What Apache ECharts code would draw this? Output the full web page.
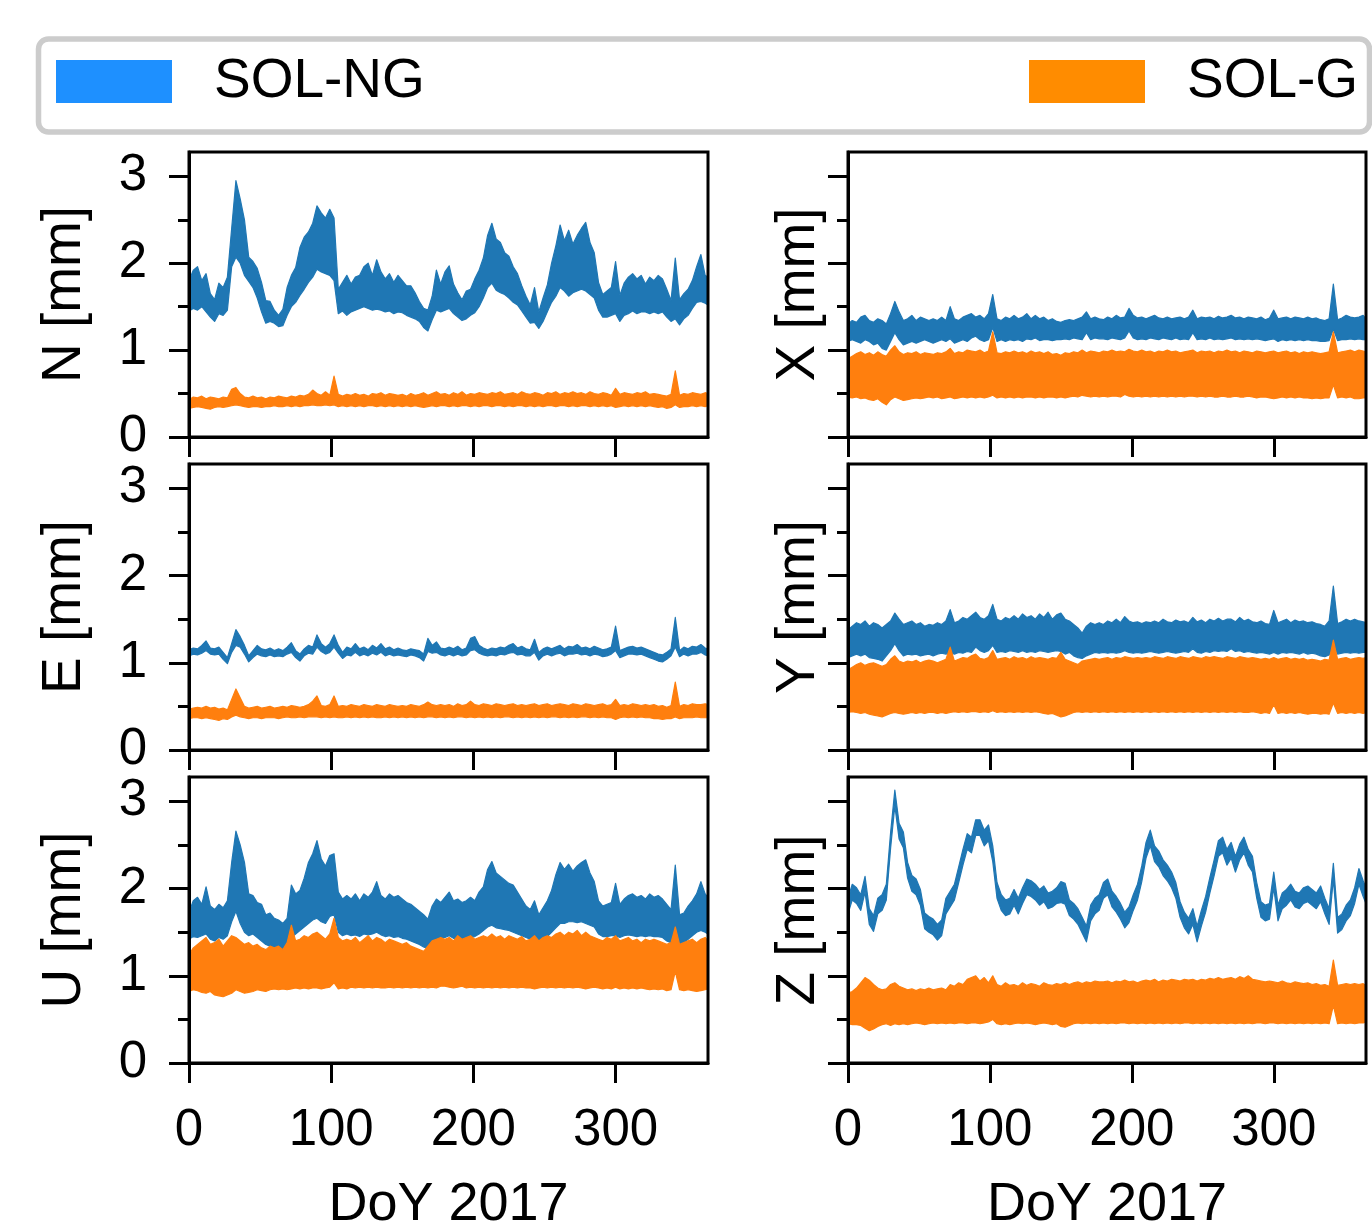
<!DOCTYPE html>
<html>
<head>
<meta charset="utf-8">
<script src="https://cdn.jsdelivr.net/npm/echarts@6/dist/echarts.min.js"></script>
<style>
  html, body { margin: 0; padding: 0; background: #fff; }
  #chart { width: 1372px; height: 1224px; }
</style>
</head>
<body>
<div id="chart"></div>
<script>
// Day of year samples (every 3 days, plus the last day)
const days = [0,3,6,9,12,15,18,21,24,27, 30,33,36,39,42,45,48,51,54,57, 60,63,66,69,72,75,78,81,84,87, 90,93,96,99,102,105,108,111,114,117, 120,123,126,129,132,135,138,141,144,147, 150,153,156,159,162,165,168,171,174,177, 180,183,186,189,192,195,198,201,204,207, 210,213,216,219,222,225,228,231,234,237, 240,243,246,249,252,255,258,261,264,267, 270,273,276,279,282,285,288,291,294,297, 300,303,306,309,312,315,318,321,324,327, 330,333,336,339,342,345,348,351,354,357, 360,363,365];
const xTickDays = [0, 100, 200, 300];
const yMajorTicks = [0, 1, 2, 3];
const yMinorTicks = [0.5, 1.5, 2.5];
const seriesNames = ['SOL-NG', 'SOL-G'];
const axisLabels = ['N [mm]', 'E [mm]', 'U [mm]', 'X [mm]', 'Y [mm]', 'Z [mm]'];
const xName = 'DoY 2017';

// ---- N ----
const nNgHi = [1.80,1.92,1.96,1.80,1.88,1.65,1.58,1.77,1.72,1.84, 2.40,2.95,2.74,2.50,2.07,2.02,1.94,1.78,1.57,1.56, 1.46,1.40,1.47,1.72,1.86,1.95,2.18,2.30,2.36,2.46, 2.66,2.58,2.52,2.62,2.52,1.70,1.78,1.86,1.76,1.84, 1.86,1.96,2.00,1.86,2.04,1.90,1.82,1.88,1.78,1.86, 1.80,1.74,1.74,1.66,1.56,1.48,1.46,1.62,1.92,1.76, 1.90,1.97,1.76,1.66,1.58,1.68,1.70,1.82,1.92,2.06, 2.32,2.46,2.28,2.24,2.12,2.08,1.96,1.88,1.74,1.62, 1.52,1.72,1.44,1.60,1.75,2.00,2.20,2.44,2.26,2.38, 2.22,2.32,2.40,2.47,2.24,2.12,1.78,1.64,1.68,1.72, 2.02,1.63,1.77,1.84,1.88,1.82,1.86,1.76,1.84,1.80, 1.86,1.82,1.70,1.57,2.06,1.58,1.65,1.70,1.80,1.96, 2.10,1.86,1.84];
const nNgLo = [1.45,1.48,1.46,1.50,1.44,1.38,1.33,1.42,1.40,1.46, 1.96,2.07,2.00,1.86,1.79,1.72,1.60,1.44,1.31,1.33, 1.31,1.27,1.28,1.40,1.50,1.55,1.63,1.70,1.78,1.84, 1.93,1.90,1.88,1.86,1.80,1.42,1.45,1.40,1.44,1.46, 1.48,1.50,1.48,1.46,1.47,1.46,1.44,1.45,1.42,1.44, 1.43,1.40,1.38,1.36,1.33,1.26,1.22,1.35,1.46,1.44, 1.46,1.48,1.42,1.38,1.34,1.36,1.40,1.43,1.50,1.60, 1.72,1.77,1.69,1.66,1.64,1.60,1.55,1.52,1.45,1.38, 1.31,1.32,1.25,1.33,1.44,1.55,1.62,1.72,1.68,1.62, 1.66,1.68,1.70,1.68,1.64,1.60,1.46,1.38,1.38,1.40, 1.42,1.33,1.40,1.42,1.45,1.42,1.44,1.44,1.42,1.44, 1.42,1.44,1.38,1.33,1.36,1.29,1.36,1.40,1.48,1.55, 1.56,1.54,1.52];
const nGHi = [.43,.46,.45,.47,.44,.46,.45,.44,.46,.45, .55,.57,.50,.46,.45,.47,.45,.46,.44,.46, .45,.47,.46,.45,.47,.46,.48,.47,.49,.54, .50,.48,.52,.48,.70,.49,.47,.49,.48,.50, .48,.49,.47,.50,.49,.51,.48,.50,.49,.48, .49,.47,.50,.48,.49,.51,.48,.50,.52,.49, .50,.48,.51,.49,.52,.48,.50,.49,.51,.50, .49,.51,.50,.52,.49,.50,.51,.49,.52,.50, .49,.51,.50,.48,.51,.50,.52,.49,.51,.50, .52,.50,.51,.49,.52,.50,.49,.51,.50,.48, .56,.49,.51,.50,.49,.51,.50,.52,.49,.50, .49,.48,.47,.49,.76,.48,.50,.49,.51,.50, .49,.51,.50];
const nGLo = [.33,.34,.35,.34,.33,.32,.34,.35,.34,.35, .36,.37,.36,.35,.34,.35,.35,.34,.35,.35, .36,.35,.35,.36,.35,.36,.35,.36,.36,.37, .36,.36,.37,.36,.37,.35,.36,.35,.36,.35, .36,.35,.36,.36,.35,.36,.35,.36,.35,.36, .35,.36,.35,.36,.35,.34,.35,.36,.35,.36, .36,.35,.36,.35,.36,.36,.35,.36,.35,.36, .36,.35,.36,.36,.35,.36,.35,.36,.36,.35, .36,.35,.36,.35,.36,.36,.35,.36,.36,.35, .36,.35,.36,.36,.35,.36,.35,.36,.35,.36, .34,.35,.36,.35,.36,.35,.36,.35,.36,.35, .34,.35,.33,.34,.37,.34,.35,.35,.36,.35, .36,.35,.36];

// ---- E ----
const eNgHi = [1.15,1.17,1.16,1.20,1.25,1.17,1.16,1.18,1.12,1.06, 1.22,1.38,1.30,1.20,1.08,1.14,1.20,1.16,1.15,1.17, 1.14,1.16,1.14,1.18,1.23,1.14,1.10,1.16,1.20,1.18, 1.32,1.22,1.18,1.22,1.32,1.20,1.12,1.18,1.16,1.22, 1.16,1.18,1.15,1.20,1.17,1.22,1.16,1.18,1.15,1.17, 1.15,1.14,1.16,1.15,1.14,1.10,1.28,1.20,1.24,1.17, 1.16,1.18,1.16,1.19,1.15,1.17,1.28,1.30,1.20,1.17, 1.15,1.17,1.16,1.18,1.17,1.20,1.22,1.17,1.19,1.16, 1.15,1.27,1.12,1.16,1.18,1.16,1.18,1.20,1.16,1.19, 1.18,1.21,1.17,1.18,1.16,1.19,1.17,1.15,1.16,1.18, 1.42,1.14,1.16,1.18,1.19,1.17,1.18,1.16,1.14,1.12, 1.10,1.09,1.12,1.16,1.52,1.14,1.18,1.16,1.19,1.18, 1.21,1.17,1.16];
const eNgLo = [1.08,1.10,1.09,1.11,1.14,1.10,1.09,1.10,1.04,0.99, 1.12,1.20,1.18,1.10,1.01,1.06,1.10,1.08,1.07,1.09, 1.07,1.08,1.07,1.10,1.12,1.06,1.02,1.08,1.11,1.10, 1.18,1.13,1.10,1.12,1.18,1.11,1.05,1.09,1.08,1.12, 1.08,1.10,1.08,1.11,1.09,1.12,1.08,1.10,1.08,1.09, 1.08,1.07,1.09,1.08,1.06,1.02,1.13,1.11,1.12,1.09, 1.08,1.10,1.08,1.10,1.08,1.09,1.14,1.15,1.11,1.09, 1.08,1.09,1.08,1.10,1.09,1.11,1.12,1.09,1.10,1.08, 1.08,1.12,1.03,1.08,1.10,1.08,1.10,1.11,1.08,1.10, 1.10,1.11,1.09,1.10,1.08,1.10,1.09,1.07,1.08,1.10, 1.14,1.06,1.08,1.10,1.10,1.09,1.10,1.08,1.06,1.04, 1.02,1.01,1.04,1.08,1.18,1.07,1.10,1.08,1.10,1.10, 1.12,1.09,1.08];
const eGHi = [.47,.48,.49,.48,.50,.48,.49,.47,.48,.46, .58,.70,.60,.50,.48,.49,.50,.48,.49,.50, .48,.49,.50,.49,.51,.50,.49,.50,.52,.56, .62,.51,.50,.52,.62,.50,.51,.50,.52,.51, .50,.52,.51,.50,.52,.51,.50,.52,.51,.50, .51,.50,.52,.51,.50,.52,.55,.52,.51,.52, .51,.52,.50,.53,.51,.52,.56,.52,.51,.53, .52,.51,.53,.52,.51,.52,.53,.51,.52,.51, .52,.53,.51,.52,.53,.51,.52,.53,.52,.51, .53,.52,.51,.53,.52,.51,.52,.53,.51,.52, .58,.51,.52,.51,.53,.52,.51,.52,.51,.52, .50,.51,.49,.51,.78,.50,.52,.51,.53,.52, .52,.53,.52];
const eGLo = [.36,.37,.37,.36,.37,.36,.35,.34,.36,.35, .38,.40,.38,.37,.36,.37,.37,.36,.37,.37, .37,.36,.37,.38,.37,.37,.38,.37,.38,.38, .38,.37,.38,.37,.38,.37,.37,.38,.37,.38, .37,.38,.37,.38,.37,.37,.38,.37,.38,.37, .38,.37,.38,.37,.38,.37,.38,.38,.37,.38, .37,.38,.37,.38,.38,.37,.38,.37,.38,.37, .38,.37,.38,.37,.38,.38,.37,.38,.37,.38, .37,.38,.37,.38,.37,.38,.38,.37,.38,.37, .38,.37,.38,.38,.37,.38,.37,.38,.37,.37, .35,.37,.38,.37,.38,.37,.38,.37,.37,.36, .36,.35,.36,.36,.38,.36,.37,.37,.37,.38, .37,.37,.37];

// ---- U ----
const uNgHi = [1.73,1.86,1.90,1.82,2.02,1.80,1.76,1.82,1.78,1.86, 2.30,2.66,2.50,2.30,1.94,1.92,1.84,1.82,1.70,1.72, 1.66,1.64,1.60,1.66,2.04,1.94,1.98,2.12,2.30,2.40, 2.55,2.34,2.26,2.38,2.40,1.96,1.88,1.92,1.88,1.94, 1.86,1.94,1.90,1.96,2.08,1.92,1.88,1.94,1.90,1.92, 1.88,1.84,1.82,1.78,1.74,1.70,1.65,1.80,1.88,1.84, 1.90,1.96,1.86,1.88,1.84,1.86,1.90,1.86,1.96,2.02, 2.22,2.31,2.18,2.14,2.10,2.06,2.04,1.96,1.88,1.80, 1.76,1.86,1.70,1.78,1.86,1.98,2.16,2.30,2.22,2.28, 2.20,2.26,2.30,2.33,2.18,2.08,1.86,1.80,1.82,1.84, 2.06,1.82,1.88,1.92,1.94,1.90,1.92,1.88,1.94,1.90, 1.92,1.88,1.82,1.76,2.27,1.70,1.72,1.80,1.86,1.94, 2.08,1.94,1.90];
const uNgLo = [1.42,1.45,1.44,1.46,1.48,1.42,1.40,1.44,1.42,1.46, 1.62,1.74,1.60,1.50,1.46,1.48,1.44,1.40,1.36,1.34, 1.32,1.30,1.30,1.36,1.44,1.48,1.52,1.56,1.60,1.64, 1.66,1.62,1.60,1.68,1.70,1.50,1.46,1.48,1.46,1.47, 1.45,1.48,1.47,1.48,1.50,1.47,1.45,1.46,1.44,1.45, 1.43,1.42,1.40,1.38,1.36,1.33,1.31,1.38,1.42,1.43, 1.44,1.46,1.43,1.42,1.41,1.42,1.44,1.45,1.48,1.52, 1.56,1.58,1.55,1.54,1.53,1.52,1.50,1.48,1.46,1.44, 1.42,1.44,1.37,1.40,1.45,1.50,1.55,1.60,1.60,1.62, 1.62,1.61,1.62,1.60,1.58,1.56,1.48,1.45,1.45,1.46, 1.46,1.44,1.46,1.47,1.46,1.45,1.46,1.45,1.46,1.45, 1.45,1.44,1.40,1.38,1.42,1.35,1.38,1.42,1.46,1.50, 1.52,1.50,1.48];
const uGHi = [1.24,1.32,1.36,1.40,1.44,1.36,1.38,1.42,1.34,1.40, 1.46,1.44,1.40,1.36,1.38,1.34,1.36,1.32,1.30,1.34, 1.32,1.34,1.30,1.38,1.58,1.40,1.42,1.46,1.44,1.48, 1.50,1.46,1.42,1.48,1.66,1.44,1.40,1.42,1.40,1.44, 1.38,1.42,1.46,1.40,1.44,1.42,1.38,1.42,1.40,1.38, 1.36,1.38,1.34,1.32,1.30,1.28,1.34,1.40,1.42,1.44, 1.42,1.44,1.40,1.46,1.42,1.44,1.46,1.42,1.44,1.46, 1.44,1.48,1.44,1.46,1.42,1.46,1.44,1.42,1.45,1.40, 1.42,1.46,1.40,1.44,1.46,1.44,1.48,1.50,1.46,1.50, 1.48,1.52,1.46,1.50,1.46,1.44,1.42,1.40,1.44,1.42, 1.46,1.40,1.42,1.44,1.40,1.42,1.38,1.42,1.40,1.42, 1.40,1.38,1.36,1.38,1.56,1.36,1.38,1.40,1.42,1.38, 1.42,1.44,1.40];
const uGLo = [.82,.84,.83,.81,.80,.82,.78,.77,.76,.78, .80,.84,.82,.80,.81,.82,.84,.83,.82,.84, .85,.84,.85,.84,.85,.86,.85,.86,.85,.86, .86,.85,.86,.87,.92,.85,.86,.85,.87,.86, .87,.86,.87,.86,.87,.86,.86,.87,.86,.87, .86,.87,.86,.87,.86,.87,.86,.87,.86,.88, .88,.87,.86,.87,.88,.86,.87,.86,.87,.86, .87,.86,.87,.86,.87,.86,.87,.86,.87,.86, .86,.85,.86,.87,.86,.87,.86,.87,.86,.87, .86,.87,.86,.85,.86,.87,.86,.85,.86,.85, .87,.85,.86,.85,.86,.85,.86,.85,.84,.85, .84,.85,.83,.84,1.05,.84,.83,.84,.83,.82, .83,.84,.85];

// ---- X ----
const xNgHi = [1.30,1.34,1.32,1.38,1.40,1.34,1.32,1.36,1.34,1.30, 1.42,1.56,1.44,1.34,1.36,1.40,1.34,1.38,1.36,1.34, 1.36,1.34,1.38,1.34,1.50,1.36,1.34,1.38,1.40,1.42, 1.38,1.40,1.36,1.42,1.64,1.36,1.34,1.38,1.36,1.40, 1.36,1.38,1.42,1.36,1.40,1.36,1.38,1.34,1.36,1.33, 1.32,1.34,1.35,1.34,1.36,1.38,1.44,1.36,1.38,1.36, 1.35,1.38,1.36,1.40,1.37,1.38,1.48,1.40,1.37,1.38, 1.36,1.38,1.40,1.37,1.36,1.38,1.36,1.37,1.38,1.36, 1.38,1.46,1.36,1.38,1.37,1.38,1.36,1.39,1.37,1.38, 1.40,1.37,1.38,1.36,1.38,1.37,1.36,1.38,1.35,1.37, 1.46,1.36,1.37,1.38,1.36,1.38,1.37,1.36,1.38,1.36, 1.37,1.35,1.34,1.36,1.76,1.35,1.37,1.40,1.38,1.37, 1.38,1.40,1.36];
const xNgLo = [1.10,1.12,1.10,1.08,1.12,1.10,1.06,1.08,1.02,1.00, 1.10,1.20,1.12,1.06,1.08,1.10,1.08,1.10,1.12,1.10, 1.08,1.10,1.12,1.10,1.13,1.08,1.10,1.12,1.10,1.14, 1.16,1.12,1.10,1.12,1.26,1.10,1.12,1.10,1.12,1.11, 1.12,1.10,1.13,1.12,1.14,1.11,1.12,1.12,1.11,1.12, 1.12,1.13,1.12,1.14,1.13,1.12,1.20,1.12,1.14,1.13, 1.13,1.12,1.14,1.13,1.12,1.14,1.22,1.14,1.12,1.13, 1.12,1.14,1.13,1.12,1.14,1.13,1.12,1.14,1.12,1.13, 1.12,1.20,1.12,1.13,1.12,1.14,1.12,1.13,1.12,1.13, 1.14,1.12,1.13,1.12,1.13,1.12,1.13,1.12,1.11,1.12, 1.13,1.10,1.12,1.11,1.12,1.11,1.12,1.11,1.12,1.11, 1.11,1.10,1.10,1.11,1.24,1.11,1.12,1.12,1.13,1.12, 1.13,1.12,1.12];
const xGHi = [.90,.93,.96,.98,.95,.97,.94,.98,.95,.93, 1.00,1.05,.98,.95,.97,.96,.98,.95,.97,.96, .95,.97,.96,.98,1.02,.96,.98,.97,1.00,.99, .98,1.00,.97,.99,1.21,.97,.96,.98,.97,.99, .97,.98,.96,.99,.97,.98,.96,.98,.95,.96, .94,.97,.96,.98,.97,1.00,.97,.99,.98,.97, .99,.98,1.00,.98,.99,.98,1.01,.99,.98,1.00, .98,.99,.97,.99,.98,1.00,.98,.99,.97,.98, .99,1.00,.97,.99,.98,.99,.97,.99,.98,1.00, .98,.99,.97,.99,.98,.97,.99,.98,.97,.98, .99,.97,.98,.99,.97,.98,.96,.98,.97,.98, .97,.96,.97,.98,1.21,.97,.98,.99,1.00,.98, 1.00,.99,.98];
const xGLo = [.46,.45,.46,.44,.45,.43,.42,.44,.40,.37, .43,.46,.44,.42,.43,.44,.45,.44,.45,.46, .45,.46,.44,.45,.46,.44,.45,.46,.45,.46, .45,.46,.45,.46,.48,.45,.46,.45,.46,.45, .46,.45,.46,.46,.45,.46,.45,.46,.46,.45, .46,.45,.46,.47,.46,.48,.47,.46,.47,.46, .47,.46,.47,.47,.46,.49,.47,.46,.47,.46, .47,.46,.47,.46,.47,.46,.47,.46,.47,.46, .47,.47,.46,.47,.46,.47,.46,.46,.47,.46, .46,.47,.46,.46,.47,.46,.45,.46,.46,.45, .44,.45,.46,.45,.46,.45,.46,.45,.45,.44, .45,.44,.45,.45,.60,.45,.46,.45,.46,.44, .44,.45,.45];

// ---- Y ----
const yNgHi = [1.38,1.42,1.46,1.44,1.48,1.42,1.46,1.44,1.40,1.44, 1.48,1.57,1.50,1.44,1.46,1.48,1.44,1.46,1.42,1.44, 1.43,1.46,1.44,1.48,1.61,1.46,1.48,1.52,1.50,1.54, 1.58,1.52,1.50,1.54,1.67,1.50,1.48,1.52,1.50,1.54, 1.50,1.56,1.52,1.54,1.50,1.56,1.52,1.58,1.50,1.55, 1.57,1.50,1.48,1.44,1.40,1.34,1.42,1.46,1.44,1.46, 1.44,1.48,1.46,1.50,1.46,1.53,1.48,1.46,1.47,1.45, 1.47,1.46,1.48,1.46,1.50,1.47,1.46,1.49,1.47,1.48, 1.46,1.52,1.47,1.49,1.46,1.50,1.48,1.51,1.48,1.50, 1.50,1.47,1.52,1.48,1.50,1.47,1.46,1.48,1.45,1.44, 1.60,1.46,1.48,1.50,1.46,1.49,1.47,1.48,1.46,1.47, 1.45,1.44,1.42,1.48,1.88,1.45,1.47,1.50,1.48,1.50, 1.48,1.47,1.46];
const yNgLo = [1.06,1.08,1.10,1.08,1.10,1.06,1.05,1.04,1.02,1.08, 1.14,1.22,1.14,1.08,1.10,1.09,1.10,1.08,1.09,1.10, 1.08,1.10,1.11,1.10,1.12,1.10,1.12,1.11,1.13,1.12, 1.18,1.14,1.12,1.14,1.20,1.12,1.13,1.12,1.14,1.13, 1.12,1.14,1.12,1.13,1.12,1.14,1.13,1.12,1.13,1.14, 1.13,1.10,1.12,1.08,1.06,1.05,1.08,1.10,1.12,1.11, 1.12,1.11,1.12,1.11,1.12,1.14,1.12,1.11,1.12,1.11, 1.12,1.13,1.12,1.11,1.12,1.13,1.12,1.11,1.12,1.13, 1.12,1.16,1.12,1.11,1.13,1.12,1.14,1.13,1.14,1.13, 1.16,1.13,1.14,1.12,1.13,1.12,1.11,1.12,1.11,1.10, 1.12,1.10,1.12,1.11,1.12,1.11,1.10,1.12,1.10,1.11, 1.10,1.08,1.07,1.09,1.20,1.10,1.11,1.12,1.11,1.12, 1.11,1.12,1.12];
const yGHi = [.92,.95,.98,1.00,.97,.99,1.00,.98,.96,.98, 1.04,1.08,1.02,1.00,1.02,1.01,1.03,1.00,1.02,1.03, 1.02,1.00,1.02,1.04,1.18,1.02,1.04,1.06,1.05,1.08, 1.10,1.05,1.04,1.06,1.14,1.04,1.05,1.06,1.04,1.07, 1.05,1.06,1.04,1.07,1.05,1.06,1.05,1.04,1.06,1.05, 1.12,1.04,1.02,1.00,.98,1.02,1.03,1.04,1.05,1.04, 1.05,1.06,1.04,1.06,1.05,1.07,1.06,1.05,1.06,1.05, 1.06,1.05,1.07,1.06,1.05,1.07,1.06,1.05,1.07,1.06, 1.05,1.07,1.06,1.05,1.07,1.06,1.07,1.06,1.05,1.07, 1.06,1.05,1.07,1.06,1.05,1.06,1.05,1.04,1.05,1.04, 1.06,1.04,1.05,1.06,1.04,1.05,1.04,1.05,1.03,1.04, 1.03,1.02,1.04,1.03,1.26,1.04,1.05,1.06,1.04,1.05, 1.06,1.05,1.06];
const yGLo = [.43,.44,.43,.42,.43,.41,.40,.39,.38,.40, .42,.43,.42,.41,.42,.43,.42,.43,.42,.43, .43,.42,.43,.42,.43,.44,.43,.44,.43,.44, .44,.43,.44,.43,.45,.43,.44,.43,.44,.43, .44,.43,.44,.43,.44,.43,.42,.41,.42,.40, .38,.39,.41,.43,.44,.43,.44,.43,.44,.43, .44,.43,.44,.43,.44,.43,.44,.43,.44,.43, .44,.43,.44,.43,.44,.43,.44,.43,.44,.43, .44,.43,.44,.43,.44,.43,.44,.43,.44,.43, .44,.43,.44,.43,.43,.44,.43,.42,.43,.42, .52,.42,.43,.42,.43,.42,.43,.42,.41,.42, .42,.41,.42,.41,.54,.42,.43,.42,.43,.42, .43,.42,.43];

// ---- Z ----
const zNgHi = [1.89,2.05,2.01,1.93,2.14,1.77,1.69,1.89,1.93,2.05, 2.64,3.13,2.75,2.65,2.30,2.15,2.11,1.99,1.72,1.68, 1.65,1.59,1.64,1.89,1.97,2.05,2.25,2.45,2.63,2.59, 2.79,2.79,2.67,2.73,2.49,2.07,1.93,1.87,1.89,1.99, 1.89,2.01,2.11,2.09,2.05,1.99,2.03,1.95,1.97,2.01, 2.08,2.06,1.87,1.83,1.77,1.67,1.57,1.81,1.89,1.93, 2.07,2.11,1.97,1.91,1.83,1.73,1.79,1.93,2.05,2.26, 2.53,2.67,2.49,2.43,2.33,2.27,2.19,2.07,1.85,1.73, 1.66,1.77,1.57,1.75,1.91,2.13,2.33,2.55,2.59,2.45, 2.53,2.37,2.51,2.59,2.45,2.37,2.07,1.85,1.81,1.83, 2.19,1.81,1.95,1.99,2.05,1.97,1.95,2.01,2.03,1.99, 1.95,2.03,1.89,1.77,2.29,1.67,1.71,1.81,1.87,2.01, 2.23,2.09,2.01];
const zNgLo = [1.71,1.87,1.83,1.75,1.96,1.59,1.51,1.71,1.75,1.87, 2.46,2.95,2.57,2.47,2.12,1.97,1.93,1.81,1.54,1.50, 1.47,1.41,1.46,1.71,1.79,1.87,2.07,2.27,2.45,2.41, 2.61,2.61,2.49,2.55,2.31,1.89,1.75,1.69,1.71,1.81, 1.71,1.83,1.93,1.91,1.87,1.81,1.85,1.77,1.79,1.83, 1.84,1.82,1.69,1.65,1.59,1.49,1.39,1.63,1.71,1.75, 1.89,1.93,1.79,1.73,1.65,1.55,1.61,1.75,1.87,2.08, 2.35,2.49,2.31,2.25,2.15,2.09,2.01,1.89,1.67,1.55, 1.48,1.59,1.39,1.57,1.73,1.95,2.15,2.37,2.41,2.27, 2.35,2.19,2.33,2.41,2.27,2.19,1.89,1.67,1.63,1.65, 2.01,1.63,1.77,1.81,1.87,1.79,1.77,1.83,1.85,1.81, 1.77,1.85,1.71,1.59,2.11,1.49,1.53,1.63,1.69,1.83, 2.05,1.91,1.83];
const zGHi = [.80,.82,.86,.92,.98,.95,.90,.86,.84,.85, .90,.92,.88,.86,.84,.85,.83,.85,.84,.86, .84,.85,.86,.84,.90,.88,.92,.90,.96,.98, 1.00,.94,.98,.92,1.00,.90,.88,.92,.89,.90, .88,.92,.89,.91,.90,.88,.92,.90,.89,.91, .90,.92,.90,.92,.93,.91,.93,.92,.94,.93, .93,.94,.92,.94,.93,.95,.93,.94,.92,.94, .95,.94,.96,.93,.95,.94,.96,.95,.94,.96, .95,.96,.94,.96,.95,.97,.96,.98,.96,.97, .98,.96,.99,.97,1.00,.96,.95,.94,.93,.94, .93,.92,.94,.92,.91,.93,.92,.91,.92,.90, .91,.89,.90,.88,1.18,.89,.90,.91,.90,.91, .90,.91,.89];
const zGLo = [.45,.44,.44,.43,.40,.37,.39,.42,.44,.45, .43,.45,.44,.45,.44,.45,.46,.45,.44,.45, .46,.45,.46,.45,.46,.45,.46,.46,.45,.46, .46,.45,.46,.47,.50,.45,.44,.45,.44,.45, .46,.45,.46,.45,.44,.45,.46,.45,.44,.45, .42,.41,.43,.45,.46,.45,.46,.45,.46,.45, .46,.45,.46,.45,.46,.46,.45,.46,.45,.46, .45,.46,.45,.46,.45,.46,.45,.46,.45,.46, .46,.45,.46,.45,.46,.45,.46,.45,.46,.45, .46,.45,.46,.45,.46,.45,.46,.46,.45,.46, .46,.45,.46,.45,.46,.45,.46,.45,.46,.45, .46,.45,.46,.45,.66,.45,.46,.45,.46,.45, .46,.46,.47];

// Panels: left column N, E, U; right column X, Y, Z
const panels = [
  { ng: [nNgLo, nNgHi], g: [nGLo, nGHi] },
  { ng: [eNgLo, eNgHi], g: [eGLo, eGHi] },
  { ng: [uNgLo, uNgHi], g: [uGLo, uGHi] },
  { ng: [xNgLo, xNgHi], g: [xGLo, xGHi] },
  { ng: [yNgLo, yNgHi], g: [yGLo, yGHi] },
  { ng: [zNgLo, zNgHi], g: [zGLo, zGHi] }
];

const FONT = 'Liberation Sans';
const BAND_COLORS = ['#1f77b4', '#ff7f0e'];
const LEGEND_COLORS = ['#1e90ff', '#ff8c00'];
const X_MAX = 365;
const Y_MAX = 3.28;

const colLeft = [189, 848];
const colWidth = [519, 518];
const rowTop = [152, 464, 777];
const rowHeight = [285, 286, 286];

// Filled band between the lower and upper limits, drawn as one polygon
function bandSeries(i, name, lo, hi, color, z) {
  return {
    type: 'custom', name: name, xAxisIndex: i, yAxisIndex: 2 * i,
    data: days.map((d, k) => [d, lo[k], hi[k]]),
    encode: { x: 0, y: [1, 2] },
    itemStyle: { color: color },
    clip: true, silent: true, z: z,
    renderItem: function (params, api) {
      if (params.dataIndexInside !== 0) return null;
      const n = params.dataInsideLength;
      const upper = [], lower = [];
      for (let k = 0; k < n; k++) {
        upper.push(api.coord([api.value(0, k), api.value(2, k)]));
        lower.push(api.coord([api.value(0, k), api.value(1, k)]));
      }
      return {
        type: 'polygon',
        shape: { points: upper.concat(lower.reverse()) },
        style: { fill: color, stroke: color, lineWidth: 1.2, lineJoin: 'round' }
      };
    }
  };
}

const grids = [], xAxes = [], yAxes = [], series = [];

panels.forEach((p, i) => {
  const col = i < 3 ? 0 : 1;
  const row = i % 3;
  const bottomRow = row === 2;
  const leftCol = col === 0;

  grids.push({
    left: colLeft[col], top: rowTop[row], width: colWidth[col], height: rowHeight[row],
    show: true, borderColor: '#000', borderWidth: 3, backgroundColor: 'transparent',
    containLabel: false, outerBoundsMode: 'none', z: 10
  });

  xAxes.push({
    type: 'value', gridIndex: i, min: 0, max: X_MAX, interval: 100,
    axisLine: { show: true, onZero: false, lineStyle: { color: '#000', width: 3 } },
    axisTick: { show: true, customValues: xTickDays, length: 20, lineStyle: { color: '#000', width: 3 } },
    axisLabel: { show: bottomRow, customValues: xTickDays, fontSize: 51, fontFamily: FONT, color: '#000', margin: 42 },
    splitLine: { show: false },
    name: bottomRow ? xName : '', nameLocation: 'middle', nameGap: 115,
    nameTextStyle: { fontSize: 54, fontFamily: FONT, color: '#000' },
    z: 11
  });

  // major ticks + labels
  yAxes.push({
    type: 'value', gridIndex: i, min: 0, max: Y_MAX, interval: 1, position: 'left',
    axisLine: { show: true, onZero: false, lineStyle: { color: '#000', width: 3 } },
    axisTick: { show: true, length: 20, customValues: yMajorTicks, lineStyle: { color: '#000', width: 3 } },
    axisLabel: { show: leftCol, customValues: yMajorTicks, fontSize: 51, fontFamily: FONT, color: '#000', margin: 42 },
    splitLine: { show: false },
    name: axisLabels[i], nameLocation: 'middle', nameGap: leftCol ? 97 : 22,
    nameTextStyle: { fontSize: 55, fontFamily: FONT, color: '#000' },
    z: 11
  });
  // minor ticks
  yAxes.push({
    type: 'value', gridIndex: i, min: 0, max: Y_MAX, interval: 0.5, position: 'left',
    axisLine: { show: false },
    axisTick: { show: true, length: 11, customValues: yMinorTicks, lineStyle: { color: '#000', width: 3 } },
    axisLabel: { show: false },
    splitLine: { show: false },
    z: 11
  });

  series.push(bandSeries(i, seriesNames[0], p.ng[0], p.ng[1], BAND_COLORS[0], 2));
  series.push(bandSeries(i, seriesNames[1], p.g[0], p.g[1], BAND_COLORS[1], 3));
});

const legendBase = {
  orient: 'horizontal', top: 54, padding: 0, itemWidth: 116, itemHeight: 43,
  icon: 'rect', selectedMode: false,
  textStyle: { fontSize: 55, fontFamily: FONT, color: '#000', padding: [6, 0, 0, 37] }
};

const chart = echarts.init(document.getElementById('chart'), null, { renderer: 'canvas' });
chart.setOption({
  animation: false,
  backgroundColor: '#fff',
  textStyle: { fontFamily: FONT },
  graphic: [{
    type: 'rect', z: 0,
    shape: { x: 38.5, y: 39, width: 1331, height: 93, r: 10 },
    style: { fill: '#fff', stroke: '#cccccc', lineWidth: 5.5 }
  }],
  legend: [
    Object.assign({}, legendBase, {
      left: 56, data: [{ name: seriesNames[0], itemStyle: { color: LEGEND_COLORS[0], borderWidth: 0 } }]
    }),
    Object.assign({}, legendBase, {
      left: 1029, data: [{ name: seriesNames[1], itemStyle: { color: LEGEND_COLORS[1], borderWidth: 0 } }]
    })
  ],
  grid: grids,
  xAxis: xAxes,
  yAxis: yAxes,
  series: series
});
</script>
</body>
</html>
